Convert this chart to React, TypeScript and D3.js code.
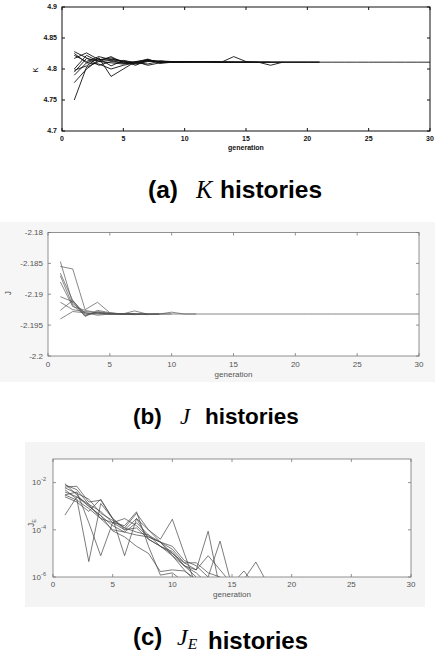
import React, { useEffect, useRef } from "react";
import * as d3 from "d3";

// generation axis
const genTicks = [0, 5, 10, 15, 20, 25, 30];

// (a) K histories
const kTicks = [4.7, 4.75, 4.8, 4.85, 4.9];
const kRuns = [
  [4.750, 4.803, 4.812, 4.810, 4.808, 4.811, 4.813, 4.811, 4.811, 4.812, 4.811, 4.811, 4.811, 4.811, 4.811, 4.811, 4.811, 4.811, 4.811, 4.811, 4.811, 4.811, 4.811, 4.811, 4.811, 4.811, 4.811, 4.811, 4.811, 4.811],
  [4.778, 4.800, 4.815, 4.818, 4.812, 4.806, 4.814, 4.812, 4.811, 4.812, 4.812, 4.811, 4.811, 4.811, 4.811, 4.811, 4.811, 4.811, 4.811, 4.811, 4.811],
  [4.790, 4.810, 4.808, 4.800, 4.806, 4.810, 4.815, 4.810, 4.812, 4.811, 4.812, 4.812, 4.811, 4.820, 4.812, 4.811, 4.811],
  [4.795, 4.817, 4.813, 4.820, 4.810, 4.808, 4.812, 4.813, 4.811, 4.812, 4.812, 4.812, 4.811, 4.811, 4.811, 4.811, 4.806, 4.811, 4.811, 4.811, 4.811],
  [4.798, 4.805, 4.818, 4.788, 4.800, 4.812, 4.806, 4.810, 4.812, 4.812, 4.811, 4.812, 4.811, 4.811],
  [4.817, 4.826, 4.815, 4.816, 4.813, 4.809, 4.814, 4.812, 4.811, 4.811, 4.812, 4.812, 4.811, 4.811, 4.811],
  [4.822, 4.812, 4.820, 4.815, 4.812, 4.810, 4.808, 4.813, 4.812, 4.811, 4.811, 4.812],
  [4.828, 4.818, 4.806, 4.812, 4.810, 4.812, 4.815, 4.811, 4.811, 4.812, 4.812],
  [4.825, 4.810, 4.817, 4.805, 4.814, 4.810, 4.813, 4.812, 4.811, 4.811, 4.812, 4.811, 4.811, 4.811, 4.811, 4.811, 4.811, 4.811],
  [4.800, 4.822, 4.812, 4.814, 4.809, 4.811, 4.816, 4.809, 4.811, 4.812, 4.812, 4.812, 4.811],
];

// (b) J histories
const jTicks = [-2.2, -2.195, -2.19, -2.185, -2.18];
const jRuns = [
  [-2.1847, -2.1915, -2.1930, -2.1932, -2.1932, -2.1932, -2.1932, -2.1932, -2.1932, -2.1932, -2.1932, -2.1932, -2.1932, -2.1932, -2.1932, -2.1932, -2.1932, -2.1932, -2.1932, -2.1932, -2.1932, -2.1932, -2.1932, -2.1932, -2.1932, -2.1932, -2.1932, -2.1932, -2.1932, -2.1932],
  [-2.1855, -2.1859, -2.1925, -2.1913, -2.1930, -2.1932, -2.1932, -2.1933, -2.1932, -2.1932],
  [-2.1866, -2.1910, -2.1935, -2.1928, -2.1931, -2.1932, -2.1927, -2.1932, -2.1932, -2.1929, -2.1932, -2.1932],
  [-2.1880, -2.1920, -2.1926, -2.1930, -2.1932, -2.1932, -2.1932, -2.1932],
  [-2.1904, -2.1912, -2.1936, -2.1926, -2.1930, -2.1932, -2.1932, -2.1932, -2.1932],
  [-2.1913, -2.1925, -2.1928, -2.1930, -2.1931, -2.1932, -2.1933, -2.1932],
  [-2.1926, -2.1910, -2.1932, -2.1931, -2.1932, -2.1932, -2.1932],
  [-2.1940, -2.1928, -2.1930, -2.1934, -2.1932, -2.1932, -2.1932, -2.1932, -2.1932],
  [-2.1870, -2.1918, -2.1934, -2.1929, -2.1932, -2.1932, -2.1932],
];

// (c) J_E histories (log scale)
const jeTicks = [1e-6, 1e-4, 1e-2];
const jeTickExps = ["-6", "-4", "-2"];
const jeRuns = [
  [9e-3, 3e-3, 1e-3, 4e-4, 1.5e-4, 8e-5, 2e-4, 6e-5, 2e-5, 1.2e-5, 3e-6, 1.5e-6, 5e-7],
  [6.5e-3, 7e-3, 1.5e-3, 1.8e-3, 3e-4, 1.2e-4, 5e-4, 1e-4, 4e-5, 2.8e-4, 1e-5, 4e-7],
  [5e-3, 2e-3, 4.5e-6, 1.3e-3, 3e-4, 1e-4, 3e-4, 4e-5, 2e-5, 8e-6, 2e-6, 6e-7],
  [3e-3, 4e-3, 2e-4, 8e-6, 2e-4, 3e-4, 1.5e-4, 5e-5, 3e-5, 1e-5, 4e-6, 2e-6, 8.7e-5, 3e-7],
  [2.5e-3, 1.5e-3, 6e-4, 2e-3, 3e-4, 8e-6, 3e-4, 1e-4, 3e-5, 2e-5, 5e-6, 3e-6, 1e-6, 3.3e-5, 4e-7],
  [8e-3, 5e-3, 1.2e-3, 6e-4, 2e-4, 1.5e-4, 5.8e-4, 2e-5, 1.2e-6, 1.5e-6, 6e-7],
  [4e-3, 2.5e-3, 1.2e-3, 3e-4, 2e-4, 1e-4, 1.2e-4, 4e-5, 2e-5, 1e-5, 3e-6, 1e-6, 3e-7],
  [4.2e-4, 2.5e-3, 1e-3, 4e-4, 9e-5, 5e-5, 2e-5, 1e-5, 1.7e-6, 2e-6, 1.8e-6, 8e-7],
  [6e-3, 3.5e-3, 2e-3, 5e-4, 2.5e-4, 1.2e-4, 8e-5, 6e-5, 3e-5, 1.5e-5, 4e-6, 4e-6, 1.5e-6, 1e-6, 5e-7, 1.8e-6, 4e-7],
  [3e-3, 1.8e-3, 8e-4, 3e-4, 1e-4, 8e-5, 6e-5, 5e-5, 3e-5, 8e-6, 3e-6, 2e-6, 8e-6, 2e-6, 5e-7, 8e-7, 4.3e-6, 5e-7],
];

const SANS = "'Liberation Sans', Arial, sans-serif";
const SERIF = "'Liberation Serif', 'Times New Roman', serif";

const drawPanel = (svg, p) => {
  const g = svg.append("g");
  const x = d3.scaleLinear().domain([0, 30]).range([p.x0, p.x1]);
  const y = (p.log ? d3.scaleLog() : d3.scaleLinear()).domain(p.yDomain).range([p.y0, p.y1]);

  g.append("rect")
    .attr("x", p.x0).attr("y", p.y1)
    .attr("width", p.x1 - p.x0).attr("height", p.y0 - p.y1)
    .attr("fill", "#fff");

  svg.append("defs").append("clipPath").attr("id", "clip-" + p.id)
    .append("rect")
    .attr("x", p.x0).attr("y", p.y1)
    .attr("width", p.x1 - p.x0).attr("height", p.y0 - p.y1);

  const line = d3.line<number>().x((d, i) => x(i + 1)).y((d) => y(d));
  g.append("g")
    .attr("clip-path", `url(#clip-${p.id})`)
    .selectAll("path")
    .data(p.runs)
    .join("path")
    .attr("d", line)
    .attr("fill", "none")
    .attr("stroke", p.lineColor)
    .attr("stroke-width", p.lineWidth)
    .attr("stroke-linejoin", "round");

  // box
  g.append("rect")
    .attr("x", p.x0).attr("y", p.y1)
    .attr("width", p.x1 - p.x0).attr("height", p.y0 - p.y1)
    .attr("fill", "none")
    .attr("stroke", p.axisColor)
    .attr("stroke-width", p.axisWidth);

  const tl = 3;
  // x ticks (inside, top and bottom)
  genTicks.forEach((t) => {
    g.append("line").attr("x1", x(t)).attr("x2", x(t)).attr("y1", p.y0).attr("y2", p.y0 - tl)
      .attr("stroke", p.axisColor).attr("stroke-width", p.axisWidth);
    g.append("line").attr("x1", x(t)).attr("x2", x(t)).attr("y1", p.y1).attr("y2", p.y1 + tl)
      .attr("stroke", p.axisColor).attr("stroke-width", p.axisWidth);
    g.append("text")
      .attr("x", x(t)).attr("y", p.xLabelY)
      .attr("text-anchor", "middle")
      .attr("font-family", SANS).attr("font-size", p.fontSize)
      .attr("font-weight", p.bold ? "bold" : "normal")
      .attr("fill", p.textColor)
      .text(t);
  });
  g.append("text")
    .attr("x", (p.x0 + p.x1) / 2).attr("y", p.genY)
    .attr("text-anchor", "middle")
    .attr("font-family", SANS).attr("font-size", p.fontSize)
    .attr("font-weight", p.bold ? "bold" : "normal")
    .attr("fill", p.textColor)
    .text("generation");

  // y ticks (inside, left and right)
  p.yTicks.forEach((t, i) => {
    g.append("line").attr("x1", p.x0).attr("x2", p.x0 + tl).attr("y1", y(t)).attr("y2", y(t))
      .attr("stroke", p.axisColor).attr("stroke-width", p.axisWidth);
    g.append("line").attr("x1", p.x1).attr("x2", p.x1 - tl).attr("y1", y(t)).attr("y2", y(t))
      .attr("stroke", p.axisColor).attr("stroke-width", p.axisWidth);
    const txt = g.append("text")
      .attr("x", p.yLabelX).attr("y", y(t) + p.fontSize * 0.35)
      .attr("text-anchor", "end")
      .attr("font-family", SANS).attr("font-size", p.fontSize)
      .attr("font-weight", p.bold ? "bold" : "normal")
      .attr("fill", p.textColor);
    if (p.log) {
      txt.append("tspan").text("10");
      txt.append("tspan").attr("dy", -4).attr("font-size", p.fontSize * 0.7).text(p.yExps[i]);
    } else {
      txt.text(p.yFormat(t));
    }
  });

  // y label
  const yl = g.append("text")
    .attr("transform", `translate(${p.yTitleX},${p.yTitleY}) rotate(-90)`)
    .attr("text-anchor", "middle")
    .attr("font-family", SANS).attr("font-size", p.fontSize + 0.5)
    .attr("fill", p.textColor);
  yl.append("tspan").text(p.yTitle);
  if (p.yTitleSub) yl.append("tspan").attr("dy", 2).attr("font-size", p.fontSize * 0.7).text(p.yTitleSub);
};

const caption = (svg, c) => {
  const t = svg.append("text").attr("y", c.y).attr("fill", "#000");
  t.append("tspan").attr("x", c.x0).attr("font-family", SANS).attr("font-weight", "bold")
    .attr("font-size", c.size).text(c.tag);
  t.append("tspan").attr("x", c.x1).attr("font-family", SERIF).attr("font-style", "italic")
    .attr("font-size", c.size).text(c.sym);
  if (c.sub) {
    t.append("tspan").attr("dy", 4).attr("font-family", SERIF).attr("font-style", "italic")
      .attr("font-size", c.size * 0.65).text(c.sub);
    t.append("tspan").attr("dy", -4).text("");
  }
  t.append("tspan").attr("x", c.x2).attr("font-family", SANS).attr("font-weight", "bold")
    .attr("font-size", c.size).text("histories");
};

const App = () => {
  const svgRef = useRef(null);

  useEffect(() => {
    const svg = d3.select(svgRef.current);
    svg.selectAll("*").remove();

    svg.append("rect").attr("width", 435).attr("height", 653).attr("fill", "#fff");
    // scan tint around panels b and c
    svg.append("rect").attr("x", 0).attr("y", 222).attr("width", 435).attr("height", 160).attr("fill", "#f6f6f6");
    svg.append("rect").attr("x", 25).attr("y", 442).attr("width", 400).attr("height", 165).attr("fill", "#f4f4f4");

    drawPanel(svg, {
      id: "a", x0: 62, x1: 430, y0: 131, y1: 7,
      yDomain: [4.7, 4.9], yTicks: kTicks, yFormat: (v) => String(v),
      runs: kRuns, lineColor: "#111", lineWidth: 0.9,
      axisColor: "#111", axisWidth: 1, textColor: "#111", fontSize: 7, bold: true,
      xLabelY: 141, genY: 150, yLabelX: 57, yTitle: "K", yTitleX: 38, yTitleY: 70,
    });
    drawPanel(svg, {
      id: "b", x0: 48, x1: 419, y0: 356, y1: 232.5,
      yDomain: [-2.2, -2.18], yTicks: jTicks, yFormat: (v) => String(v),
      runs: jRuns, lineColor: "#555", lineWidth: 0.7,
      axisColor: "#777", axisWidth: 0.8, textColor: "#555", fontSize: 8, bold: false,
      xLabelY: 367, genY: 377, yLabelX: 43, yTitle: "J", yTitleX: 11, yTitleY: 293,
    });
    drawPanel(svg, {
      id: "c", x0: 53, x1: 411, y0: 577, y1: 459, log: true,
      yDomain: [1e-6, 1e-1], yTicks: jeTicks, yExps: jeTickExps,
      runs: jeRuns, lineColor: "#444", lineWidth: 0.7,
      axisColor: "#777", axisWidth: 0.8, textColor: "#555", fontSize: 8, bold: false,
      xLabelY: 587, genY: 597, yLabelX: 46, yTitle: "J", yTitleSub: "E", yTitleX: 34, yTitleY: 523,
    });

    caption(svg, { y: 198, size: 24.5, tag: "(a)", sym: "K", x0: 148, x1: 196, x2: 220 });
    caption(svg, { y: 424, size: 22.5, tag: "(b)", sym: "J", x0: 133, x1: 180, x2: 205 });
    caption(svg, { y: 645, size: 24, tag: "(c)", sym: "J", sub: "E", x0: 133, x1: 177, x2: 208 });
  }, []);

  return (
    <div style={{ position: "absolute", left: 0, top: 0 }}>
      <svg ref={svgRef} width={435} height={653} style={{ display: "block" }}></svg>
    </div>
  );
};

export default App;
